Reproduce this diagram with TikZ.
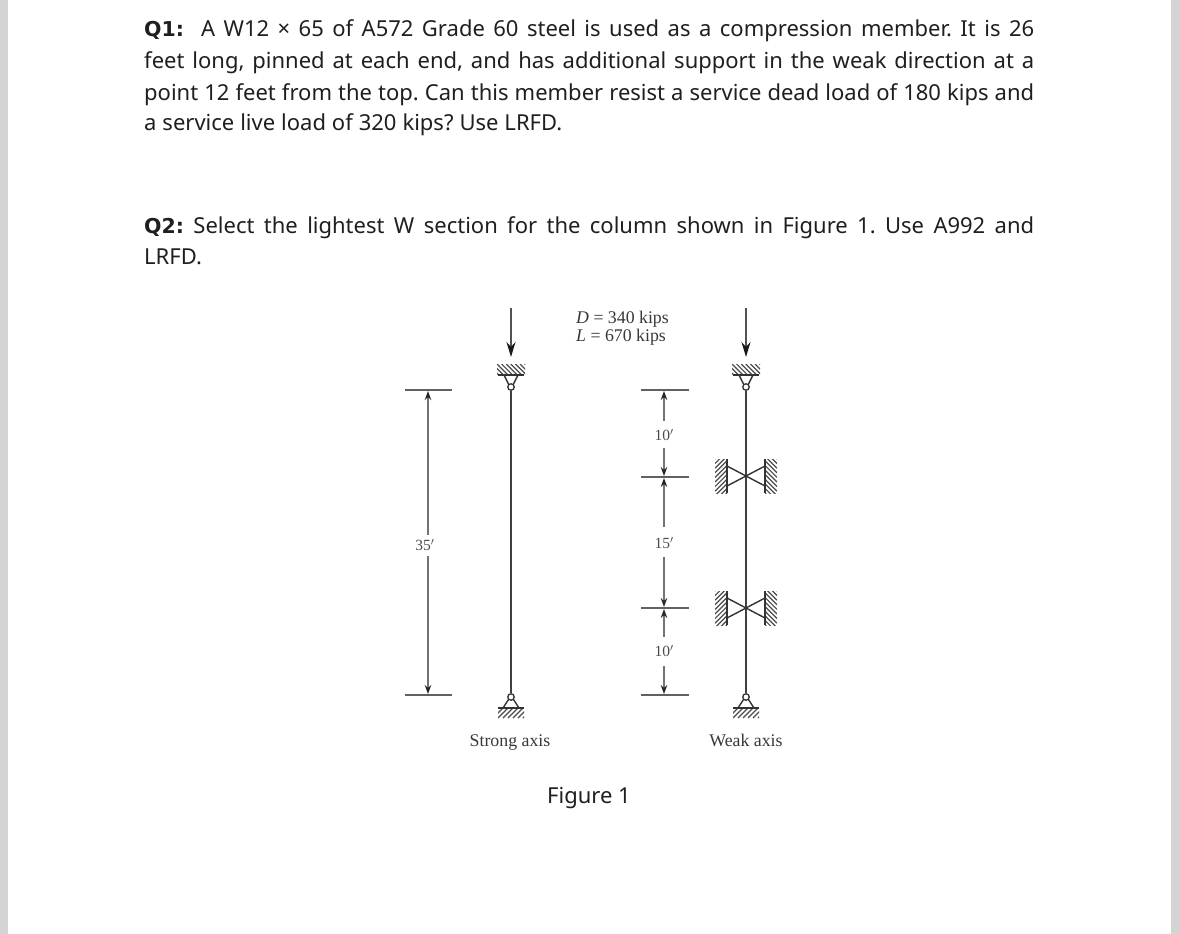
\documentclass[tikz,border=0pt]{standalone}
\usepackage{fontspec}
\setmainfont{Noto Sans}
\newfontfamily\figserif{Liberation Serif}
\newfontfamily\qhead{DejaVu Sans}
\usetikzlibrary{arrows.meta}
\frenchspacing
\newcommand{\textline}[4]{\node[bodytext] (#1) at (144,#2) {\makebox[#3pt][s]{#4}};}
\newcommand{\qlabel}[1]{{\qhead\fontsize{20.5}{26}\selectfont\bfseries #1}}
\tikzset{
  x=1pt,y=-1pt,
  bodytext/.style={anchor=base west,inner sep=0pt,font=\fontsize{22}{26}\selectfont,text=black!88},
  figlabel/.style={inner sep=0pt,font=\figserif\fontsize{17.8}{20}\selectfont,text=black!78},
  dimlabel/.style={inner sep=0pt,font=\figserif\fontsize{15.5}{18}\selectfont,text=black!70},
  column/.style={draw=black!75,line width=2.2pt},
  dimline/.style={draw=black!55,line width=1.3pt},
  dimtip/.style={dimline,-{Stealth[length=9pt,width=6.5pt,black!85]}},
  tick/.style={draw=black!62,line width=1.4pt},
  load/.style={draw=black!68,line width=1.4pt,-{Stealth[length=15pt,width=9pt,black!90]}},
  sup/.style={draw=black!80,line width=1.4pt},
  hatch/.style={draw=black!70,line width=1.2pt},
  hingept/.style={circle,draw=black!80,line width=1.3pt,minimum size=6.5pt,inner sep=0pt,fill=white},
}
\begin{document}
\begin{tikzpicture}
\useasboundingbox (0,0) rectangle (1179,934);
\fill[white] (0,0) rectangle (1179,934);
\fill[black!17] (0,0) rectangle (8,934);
\fill[black!17] (1171,0) rectangle (1179,934);

\textline{q1a}{37}{890}{\qlabel{Q1:} \ A W12 × 65 of A572 Grade 60 steel is used as a compression member. It is 26}
\textline{q1b}{69}{890}{feet long, pinned at each end, and has additional support in the weak direction at a}
\textline{q1c}{100}{890}{point 12 feet from the top. Can this member resist a service dead load of 180 kips and}
\textline{q1d}{131}{418}{a service live load of 320 kips? Use LRFD.}
\textline{q2a}{233}{890}{\qlabel{Q2:} Select the lightest W section for the column shown in Figure 1. Use A992 and}
\textline{q2b}{264}{59}{LRFD.}

% loads text
\node[figlabel,anchor=base west] (dl) at (576,323) {\textit{D} = 340 kips};
\node[figlabel,anchor=base west] (ll) at (576,341) {\textit{L} = 670 kips};

% columns and supports
\foreach \n/\x in {s/511,w/746}{
  \coordinate (\n loadtop) at (\x,308);
  \coordinate (\n loadtip) at (\x,357);
  \draw[load] (\n loadtop) -- (\n loadtip);
  \begin{scope}
    \clip (\x-14,364) rectangle (\x+14,375);
    \foreach \k in {-2,...,7}{\draw[hatch] ({\x-14+\k*4.6},364) -- ({\x-3+\k*4.6},375);}
  \end{scope}
  \begin{scope}
    \clip (\x-13,708) rectangle (\x+13,718);
    \foreach \k in {-1,...,8}{\draw[hatch] ({\x-18+\k*5},718) -- ({\x-8+\k*5},708);}
  \end{scope}
  \draw[sup] (\x-13,375) -- (\x+13,375);
  \draw[sup] (\x-13,708) -- (\x+13,708);
  \draw[sup] (\x-7,375) -- (\x-2.5,384);
  \draw[sup] (\x+7,375) -- (\x+2.5,384);
  \draw[sup] (\x-8,708) -- (\x-2.5,699.5);
  \draw[sup] (\x+8,708) -- (\x+2.5,699.5);
  \node[hingept] (\n top) at (\x,387) {};
  \node[hingept] (\n bot) at (\x,697) {};
  \draw[column] (\n top) -- (\n bot);
}

% bracing at weak axis
\foreach \n/\y in {a/476,b/608}{
  \coordinate (lw\n a) at (727,\y-17);
  \coordinate (lw\n b) at (727,\y+17);
  \coordinate (rw\n a) at (765,\y-17);
  \coordinate (rw\n b) at (765,\y+17);
  \begin{scope}
    \clip (715,\y-17) rectangle (727,\y+17);
    \foreach \k in {-2,...,10}{\draw[hatch] (715,{\y-17+\k*4.6}) -- (727,{\y-29+\k*4.6});}
  \end{scope}
  \begin{scope}
    \clip (765,\y-17) rectangle (777,\y+17);
    \foreach \k in {-2,...,10}{\draw[hatch] (765,{\y-29+\k*4.6}) -- (777,{\y-17+\k*4.6});}
  \end{scope}
  \draw[sup] (lw\n a) -- (lw\n b);
  \draw[sup] (rw\n a) -- (rw\n b);
  \draw[sup] (727,\y-10) -- (765,\y+10);
  \draw[sup] (727,\y+10) -- (765,\y-10);
}

% dimension ticks
\foreach \n/\y in {l1/390,l2/695}{\draw[tick] (405,\y) coordinate(\n a) -- (452,\y) coordinate(\n b);}
\foreach \n/\y in {r1/390,r2/477,r3/608,r4/695}{\draw[tick] (641,\y) coordinate(\n a) -- (689,\y) coordinate(\n b);}

% dimension labels
\node[dimlabel] (d35) at (425,545) {35$'$};
\node[dimlabel] (d10a) at (664,435) {10$'$};
\node[dimlabel] (d15) at (664,543) {15$'$};
\node[dimlabel] (d10b) at (664,651) {10$'$};

% dimension lines
\draw[dimtip] (428,535) -- (428,391);
\draw[dimtip] (428,556) -- (428,694);
\draw[dimtip] (664,421) -- (664,391);
\draw[dimtip] (664,448) -- (664,476);
\draw[dimtip] (664,527) -- (664,478);
\draw[dimtip] (664,557) -- (664,607);
\draw[dimtip] (664,637) -- (664,609);
\draw[dimtip] (664,666) -- (664,694);

% captions
\node[figlabel,anchor=base] (cs) at (510,746) {Strong axis};
\node[figlabel,anchor=base] (cw) at (746,746) {Weak axis};
\node[bodytext,anchor=base] (fig) at (589,803) {Figure 1};
\end{tikzpicture}
\end{document}
